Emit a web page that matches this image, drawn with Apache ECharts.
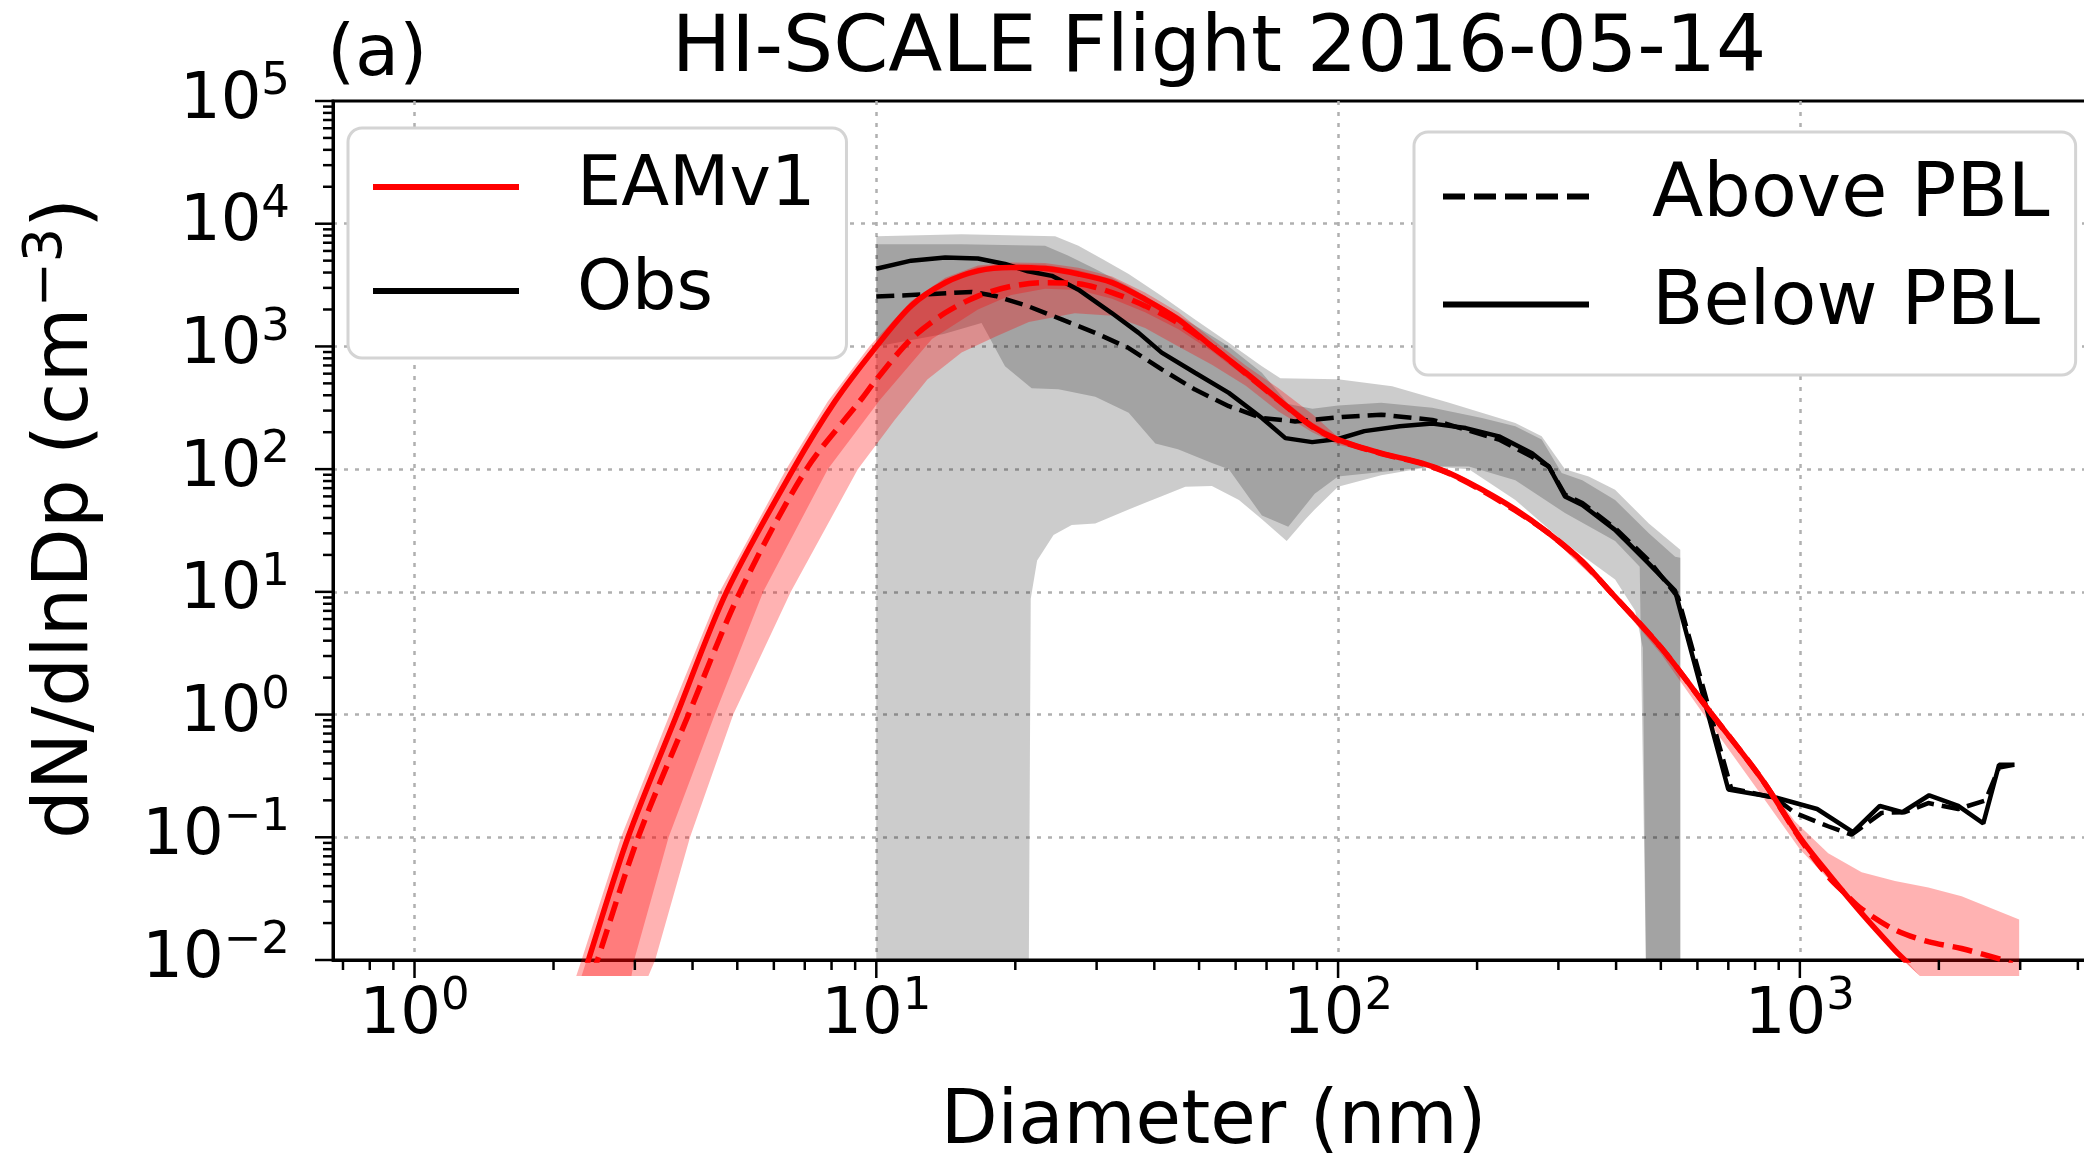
<!DOCTYPE html>
<html>
<head>
<meta charset="utf-8">
<title>HI-SCALE Flight 2016-05-14</title>
<script src="https://cdn.jsdelivr.net/npm/echarts@6.0.0/dist/echarts.min.js"></script>
<style>
  html, body { margin: 0; padding: 0; background: #fff; }
  #chart { width: 2084px; height: 1159px; }
</style>
</head>
<body>
<div id="chart"></div>
<script>
// [diameter (nm), dN/dlnDp (cm-3)]
var eamBelow = [[2.32, 0.0074], [2.38, 0.01], [2.90, 0.1], [3.70, 1], [4.74, 10], [6.61, 100], [8.13, 355], [10.0, 1000],
  [11.9, 2140], [14.1, 3300], [16.6, 4130], [19.6, 4400], [23.2, 4310], [27.4, 3890], [32.4, 3310], [38.2, 2420],
  [45.1, 1660], [53.3, 1000], [63.1, 610], [74.3, 369], [87.9, 224], [100, 174], [124, 135], [152, 112], [174, 93],
  [205, 68], [242, 47], [286, 30], [338, 17.8], [389, 10], [501, 3.5], [646, 1.0], [826, 0.30], [1000, 0.1],
  [1151, 0.051], [1361, 0.024], [1607, 0.012], [1687, 0.01], [1820, 0.0074]];
var eamAbove = [[2.43, 0.0074], [2.49, 0.01], [3.05, 0.1], [3.92, 1], [5.07, 10], [7.06, 100], [9.27, 369], [10.0, 537],
  [11.9, 1150], [14.1, 1880], [16.6, 2570], [19.6, 3090], [23.2, 3310], [27.4, 3240], [32.4, 2750], [38.2, 2140],
  [45.1, 1550], [53.3, 1000], [63.1, 600], [74.3, 365], [87.9, 222], [100, 172], [124, 134], [152, 111], [174, 92],
  [205, 67], [242, 46], [286, 30], [338, 17.6], [389, 10], [501, 3.5], [646, 1.0], [826, 0.30], [1000, 0.098],
  [1151, 0.048], [1251, 0.035], [1361, 0.026], [1607, 0.0176], [1897, 0.0141], [2239, 0.0124], [2754, 0.010], [2884, 0.0093]];
var obsBelow = [[10, 4300], [11.9, 5000], [14.1, 5300], [16.6, 5200], [19, 4700], [21.3, 4100], [24, 3760], [27.4, 2900],
  [32.3, 1880], [37, 1290], [41.5, 890], [49, 610], [58, 418], [68.4, 261], [76.9, 179], [87.9, 166], [100, 176],
  [114, 204], [136, 224], [160, 235], [189, 216], [223, 185], [263, 135], [286, 105], [310, 60], [338, 51], [398, 32],
  [471, 17], [537, 10.2], [545, 8.2], [700, 0.245], [890, 0.21], [1090, 0.17], [1303, 0.11], [1490, 0.18], [1667, 0.16],
  [1906, 0.22], [2203, 0.18], [2496, 0.13], [2700, 0.39], [2917, 0.39]];
var obsAbove = [[10, 2550], [12.9, 2660], [16.1, 2780], [18.1, 2580], [21.3, 2130], [25.2, 1660], [29.8, 1290], [35.2, 970],
  [41.5, 650], [49, 445], [58, 326], [68.4, 261], [80.7, 245], [102, 266], [124, 278], [160, 252], [189, 210], [223, 174],
  [263, 126], [286, 105], [310, 62], [338, 53], [398, 33], [471, 18], [545, 9], [710, 0.25], [883, 0.21], [975, 0.158],
  [1151, 0.123], [1294, 0.105], [1503, 0.158], [1687, 0.16], [1897, 0.19], [2203, 0.17], [2524, 0.20], [2700, 0.37], [2917, 0.39]];

// shaded ranges: upper and lower edges
var eamWideHi = [[2.24, 0.0074], [2.30, 0.01], [2.80, 0.1], [3.57, 1], [4.58, 10], [6.38, 100], [7.85, 355], [9.66, 1000],
  [11.9, 2340], [14.1, 3630], [16.6, 4570], [19.6, 4840], [23.2, 4790], [27.4, 4370], [32.4, 3720], [38.2, 2750],
  [45.1, 1900], [53.3, 1150], [63.1, 700], [74.3, 457], [87.9, 282], [100, 182], [124, 138], [152, 115], [205, 69],
  [286, 31], [389, 10.2], [501, 3.6], [646, 1.02], [826, 0.32], [975, 0.135], [1152, 0.074], [1361, 0.052],
  [1607, 0.044], [1898, 0.039], [2240, 0.033], [2985, 0.0214]];
var eamWideLo = [[3.21, 0.0074], [3.32, 0.01], [3.95, 0.1], [4.90, 1], [6.53, 10], [9.12, 100], [10.96, 251], [12.9, 537],
  [15.3, 891], [18.1, 1200], [21.4, 1585], [26.9, 1860], [32.4, 1780], [38.2, 1410], [45.1, 1000], [53.3, 708],
  [63.1, 479], [74.3, 295], [87.9, 200], [100, 158], [124, 132], [152, 110], [205, 66], [286, 29], [389, 9.6],
  [501, 3.1], [646, 0.80], [826, 0.22], [1000, 0.08], [1151, 0.046], [1361, 0.023], [1607, 0.0115], [1820, 0.0074],
  [2985, 0.0074]];
var eamNarrowHi = [[2.30, 0.0074], [2.36, 0.01], [2.86, 0.1], [3.66, 1], [4.69, 10], [6.53, 100], [9.89, 1000],
  [11.9, 2290], [14.1, 3550], [16.6, 4430], [19.6, 4710], [23.2, 4620], [27.4, 4170], [32.4, 3550], [38.2, 2590],
  [45.1, 1780], [53.3, 1070], [63.1, 653], [74.3, 395], [87.9, 240], [100, 182], [124, 138], [152, 115], [205, 69],
  [286, 31], [389, 10.2], [501, 3.6], [646, 1.02], [826, 0.31], [1000, 0.103], [1151, 0.053], [1361, 0.025],
  [1607, 0.0125], [1820, 0.0074]];
var eamNarrowLo = [[2.95, 0.0074], [2.99, 0.01], [3.55, 0.1], [4.47, 1], [5.69, 10], [7.85, 100], [10.2, 369],
  [13.2, 1150], [16.6, 2000], [19.6, 2630], [23.2, 2950], [27.4, 2880], [32.4, 2450], [38.2, 1900], [45.1, 1380],
  [53.3, 912], [63.1, 562], [74.3, 339], [87.9, 209], [100, 166], [124, 132], [152, 110], [205, 66], [286, 29],
  [389, 9.8], [501, 3.47], [646, 0.98], [826, 0.28], [1000, 0.095], [1151, 0.049], [1361, 0.023], [1607, 0.0115],
  [1820, 0.0074]];
var obsOuterHi = [[10, 7900], [15.3, 8200], [24.4, 7900], [27.4, 6600], [31, 5100], [35.2, 3900], [41.5, 2570], [49, 1660],
  [58, 1070], [68.4, 690], [75, 550], [100, 540], [131, 474], [174, 347], [242, 238], [276, 185], [310, 100], [349, 87],
  [398, 68], [471, 36], [551, 22]];
var obsOuterLo = [[10, 0.01], [21.4, 0.01], [21.6, 8.8], [22.3, 18], [24.2, 29], [26.5, 35], [29.8, 36], [35.2, 47],
  [38.6, 54], [41.5, 60], [46.7, 72], [53.3, 73], [61, 56], [68.4, 39], [77.4, 26], [85, 39], [89, 47], [100, 72],
  [124, 89], [160, 105], [192, 100], [242, 56], [310, 25], [398, 12.6], [440, 7], [457, 3.5], [464, 0.01], [551, 0.01]];
var obsInnerHi = [[10, 6800], [15.3, 6800], [23.2, 6600], [26, 5500], [29.8, 4270], [35.2, 3090], [41.5, 2140], [49, 1480],
  [58, 1000], [68.4, 610], [78, 340], [88, 310], [100, 330], [124, 347], [160, 316], [205, 261], [242, 224], [276, 174],
  [305, 93], [338, 81], [398, 56], [471, 30], [537, 19.3], [551, 19]];
var obsInnerLo = [[10, 1000], [14, 1260], [16.9, 1550], [19, 690], [21.7, 457], [24.8, 447], [29.8, 389], [35.2, 288],
  [40.2, 162], [45, 145], [53.3, 112], [58, 100], [68.4, 42], [78, 34], [89, 63], [100, 87], [124, 95], [160, 105],
  [192, 105], [242, 81], [310, 44], [398, 26], [450, 16], [464, 0.01], [551, 0.01]];

// axes
var xMajor = [1, 10, 100, 1000];
var yMajor = [0.01, 0.1, 1, 10, 100, 1000, 10000, 100000];
var minorSteps = [2, 3, 4, 5, 6, 7, 8, 9];
var xMin = 0.666, xMax = 4335, yMin = 0.01, yMax = 100000;

var font = 'DejaVu Sans';
var chart = echarts.init(document.getElementById('chart'));

// legend handles drawn as paths: a plain bar and five dashes
var solidIcon = 'path://M0,0H146V6H0Z';
var dashIcon = 'path://M0,0H22V6H0Z M31,0H53V6H31Z M62,0H84V6H62Z M93,0H115V6H93Z M124,0H146V6H124Z';

function minors(majors, lo, hi) {
  var out = [];
  for (var i = -1; i < majors.length; i++) {
    var base = i < 0 ? majors[0] / 10 : majors[i];
    minorSteps.forEach(function (s) {
      var v = base * s;
      if (v > lo && v < hi) out.push(v);
    });
  }
  return out;
}

function powLabel(v) {
  var l = Math.log10(v), e = Math.round(l);
  if (Math.abs(l - e) > 1e-6) return '';
  return '{b|10}{s|' + (e < 0 ? '\u2212' + (-e) : e) + '}';
}

var labelRich = {
  b: { fontFamily: font, fontSize: 64, color: '#000', verticalAlign: 'bottom', lineHeight: 64 },
  s: { fontFamily: font, fontSize: 45, color: '#000', verticalAlign: 'bottom', lineHeight: 45, padding: [0, 0, 28, 0] }
};

function band(name, hi, lo, color) {
  var pts = hi.concat(lo.slice().reverse());
  return {
    type: 'custom', name: name, data: pts, silent: true, z: 1,
    renderItem: function (params, api) {
      if (params.dataIndex !== 0) return null;
      return {
        type: 'polygon',
        shape: { points: pts.map(function (p) { return api.coord(p); }) },
        style: { fill: color }
      };
    }
  };
}

function curve(name, data, color, width, dash, smooth) {
  return {
    type: 'line', name: name, data: data, symbol: 'none', smooth: smooth, silent: true, z: 3,
    lineStyle: { color: color, width: width, type: dash || 'solid' }
  };
}

function tickSeries(name, onX) {
  var vals = onX ? xMajor.map(function (v) { return [v, 1]; }).concat(minors(xMajor, xMin, xMax).map(function (v) { return [v, 0]; }))
                 : yMajor.map(function (v) { return [v, 1]; }).concat(minors(yMajor, yMin, yMax).map(function (v) { return [v, 0]; }));
  return {
    type: 'custom', name: name, silent: true, z: 5,
    data: vals.map(function (t) { return onX ? [t[0], yMin, t[1]] : [xMin, t[0], t[1]]; }),
    renderItem: function (params, api) {
      var p = api.coord([api.value(0), api.value(1)]);
      var len = api.value(2) ? 18 : 10;
      var shape = onX ? { x1: p[0], y1: p[1], x2: p[0], y2: p[1] + len }
                      : { x1: p[0], y1: p[1], x2: p[0] - len, y2: p[1] };
      return { type: 'line', shape: shape, style: { stroke: '#000', lineWidth: 2.5 } };
    }
  };
}

function legendEntry(name, color) {
  return { type: 'line', name: name, data: [], symbol: 'none', lineStyle: { color: color }, itemStyle: { color: color } };
}

var legendBox = {
  orient: 'vertical', align: 'left', selectedMode: false, itemWidth: 146, itemHeight: 6,
  backgroundColor: '#fff', borderColor: '#d4d4d4', borderWidth: 3, borderRadius: 14
};

var option = {
  animation: false,
  backgroundColor: '#fff',
  title: [
    { text: 'HI-SCALE Flight 2016-05-14', left: 1214, top: 6, textAlign: 'center',
      textStyle: { fontFamily: font, fontSize: 79, fontWeight: 'normal', color: '#000' } },
    { text: '(a)', left: 322, top: 15,
      textStyle: { fontFamily: font, fontSize: 72, fontWeight: 'normal', color: '#000' } }
  ],
  legend: [
    Object.assign({}, legendBox, {
      data: [{ name: 'EAMv1', icon: solidIcon }, { name: 'Obs', icon: solidIcon }],
      left: 348, top: 128, padding: [24, 31, 32, 25], itemGap: 34,
      textStyle: { fontFamily: font, fontSize: 70, color: '#000', lineHeight: 70, padding: [0, 0, 0, 53] }
    }),
    Object.assign({}, legendBox, {
      data: [{ name: 'Above PBL', icon: dashIcon }, { name: 'Below PBL', icon: solidIcon }],
      left: 1414, top: 132, padding: [27, 26, 33, 29], itemGap: 33,
      textStyle: { fontFamily: font, fontSize: 75, color: '#000', lineHeight: 75, padding: [0, 0, 0, 58] }
    })
  ],
  grid: { left: 333, right: -10, top: 101, bottom: 199, outerBoundsMode: 'none',
    show: true, borderColor: '#000', borderWidth: 3, backgroundColor: 'transparent' },
  xAxis: {
    type: 'log', logBase: 10, min: xMin, max: xMax,
    name: 'Diameter (nm)', nameLocation: 'middle', nameGap: 127,
    nameTextStyle: { fontFamily: font, fontSize: 74, color: '#000' },
    axisLine: { show: true, lineStyle: { color: '#000', width: 3 } },
    axisTick: { show: false },
    axisLabel: { formatter: powLabel, margin: 24, rich: labelRich },
    splitLine: { show: true, showMinLine: false, showMaxLine: false, lineStyle: { color: '#b0b0b0', width: 2.5, type: [4, 7] } }
  },
  yAxis: {
    type: 'log', logBase: 10, min: yMin, max: yMax,
    name: '{n|dN/dlnDp (cm}{s|\u22123}{n|)}', nameLocation: 'middle', nameGap: 228,
    nameTextStyle: { padding: [0, 0, 0, 24], rich: {
      n: { fontFamily: font, fontSize: 77, color: '#000', verticalAlign: 'bottom', lineHeight: 77 },
      s: { fontFamily: font, fontSize: 54, color: '#000', verticalAlign: 'bottom', lineHeight: 54, padding: [0, 0, 31, 0] }
    } },
    axisLine: { show: true, lineStyle: { color: '#000', width: 3 } },
    axisTick: { show: false },
    axisLabel: { formatter: powLabel, margin: 43, rich: labelRich },
    splitLine: { show: true, showMinLine: false, showMaxLine: false, lineStyle: { color: '#b0b0b0', width: 2.5, type: [4, 7] } }
  },
  series: [
    band('Obs range A', obsOuterHi, obsOuterLo, 'rgba(0,0,0,0.2)'),
    band('Obs range B', obsInnerHi, obsInnerLo, 'rgba(0,0,0,0.2)'),
    band('EAMv1 range A', eamWideHi, eamWideLo, 'rgba(255,0,0,0.3)'),
    band('EAMv1 range B', eamNarrowHi, eamNarrowLo, 'rgba(255,0,0,0.3)'),
    curve('Obs above PBL', obsAbove, '#000', 4.5, [18, 8], false),
    curve('Obs below PBL', obsBelow, '#000', 4.5, null, false),
    curve('EAMv1 above PBL', eamAbove, '#ff0000', 5.5, [20, 9], 0.3),
    curve('EAMv1 below PBL', eamBelow, '#ff0000', 5.5, null, 0.3),
    tickSeries('x ticks', true),
    tickSeries('y ticks', false),
    legendEntry('EAMv1', '#ff0000'),
    legendEntry('Obs', '#000'),
    legendEntry('Above PBL', '#000'),
    legendEntry('Below PBL', '#000')
  ]
};

chart.setOption(option);
</script>
</body>
</html>
